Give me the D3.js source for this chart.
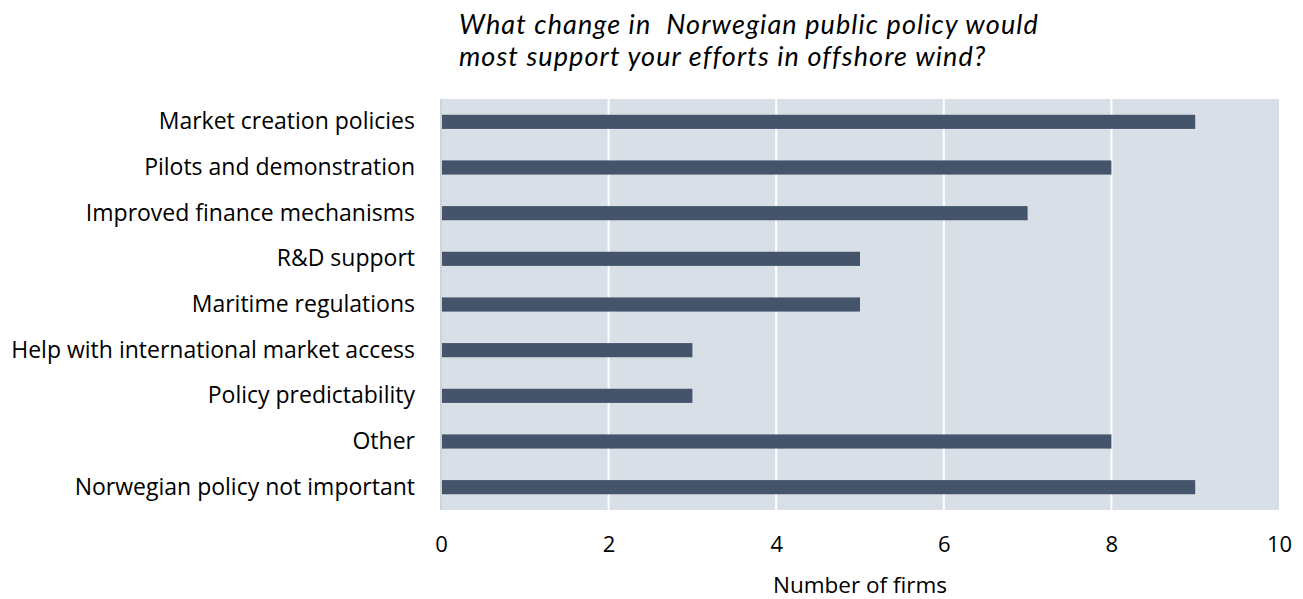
<!DOCTYPE html>
<html>
<head>
<meta charset="utf-8">
<script src="https://cdn.jsdelivr.net/npm/d3@7"></script>
<style>
  html, body { margin: 0; padding: 0; background: #fff; overflow: hidden; }
  svg { display: block; }
  text { fill: #000; }
</style>
</head>
<body>
<svg id="chart"></svg>
<script>
var categories = [
    'Market creation policies',
    'Pilots and demonstration',
    'Improved finance mechanisms',
    'R&D support',
    'Maritime regulations',
    'Help with international market access',
    'Policy predictability',
    'Other',
    'Norwegian policy not important'
];
var firmCounts = [9, 8, 7, 5, 5, 3, 3, 8, 9];
var xTicks = [0, 2, 4, 6, 8, 10];
var titleLines = [
    'What change in  Norwegian public policy would',
    'most support your efforts in offshore wind?'
];

var width = 1303,
    height = 599,
    margin = { top: 99, left: 441, right: 24, bottom: 89 },
    innerWidth = width - margin.left - margin.right,
    innerHeight = height - margin.top - margin.bottom;

var svg = d3.select('#chart')
    .attr('width', width)
    .attr('height', height);

// title (two lines, italic)
svg.append('text')
    .attr('x', 459)
    .attr('y', 34)
    .attr('xml:space', 'preserve')
    .style('white-space', 'pre')
    .style('font-family', 'Lato, sans-serif')
    .style('font-style', 'italic')
    .style('font-size', '27px')
    .style('letter-spacing', '1.1px')
    .selectAll('tspan')
    .data(titleLines)
    .enter().append('tspan')
    .attr('x', 459)
    .attr('dy', function (d, i) { return i === 0 ? 0 : 32; })
    .text(function (d) { return d; });

var chart = svg.append('g')
    .attr('transform', 'translate(' + margin.left + ', ' + margin.top + ')');

var x = d3.scaleLinear()
    .domain([0, 10])
    .range([0, innerWidth]);

var y = d3.scaleBand()
    .domain(categories)
    .range([0, innerHeight])
    .paddingInner(0.69)
    .paddingOuter(0.345);

// plot background
chart.append('rect')
    .attr('x', 0)
    .attr('y', 0)
    .attr('width', innerWidth)
    .attr('height', innerHeight)
    .attr('fill', '#d9dfe7');

// gridlines
chart.selectAll('.grid')
    .data(xTicks.slice(1, -1))
    .enter().append('line')
    .attr('class', 'grid')
    .attr('x1', function (d) { return x(d); })
    .attr('x2', function (d) { return x(d); })
    .attr('y1', 0)
    .attr('y2', innerHeight)
    .attr('stroke', '#fff')
    .attr('stroke-width', 2);

// left axis line
chart.append('line')
    .attr('x1', 0).attr('x2', 0)
    .attr('y1', 0).attr('y2', innerHeight)
    .attr('stroke', '#cfd3d8')
    .attr('stroke-width', 2);

// bars
chart.selectAll('.bar')
    .data(firmCounts)
    .enter().append('rect')
    .attr('class', 'bar')
    .attr('x', x(0) + 1)
    .attr('y', function (d, i) { return y(categories[i]); })
    .attr('width', function (d) { return x(d) - x(0) - 1; })
    .attr('height', y.bandwidth())
    .attr('fill', '#44546a');

// y axis labels
var yAxis = d3.axisLeft(y).tickSize(0).tickPadding(26);
chart.append('g')
    .attr('class', 'y axis')
    .call(yAxis)
    .call(function (g) { g.select('.domain').remove(); })
    .selectAll('text')
    .style('font-family', '"Open Sans", sans-serif')
    .style('font-size', '23px')
    .attr('fill', '#000');

// x axis
var xAxis = d3.axisBottom(x).tickValues(xTicks).tickSize(0).tickPadding(26);
chart.append('g')
    .attr('class', 'x axis')
    .attr('transform', 'translate(0,' + innerHeight + ')')
    .call(xAxis)
    .call(function (g) { g.select('.domain').remove(); })
    .selectAll('text')
    .style('font-family', '"Open Sans", sans-serif')
    .style('font-size', '22px')
    .attr('fill', '#000');

// x axis title
svg.append('text')
    .attr('x', margin.left + innerWidth / 2)
    .attr('y', 593)
    .attr('text-anchor', 'middle')
    .style('font-family', '"Open Sans", sans-serif')
    .style('font-size', '22.5px')
    .text('Number of firms');
</script>
</body>
</html>
